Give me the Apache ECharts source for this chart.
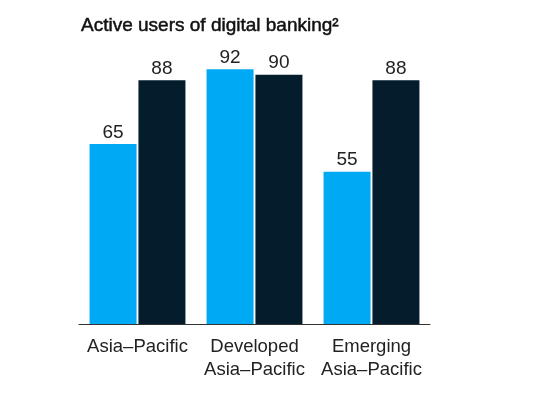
<!DOCTYPE html>
<html><head><meta charset="utf-8">
<script src="https://cdn.jsdelivr.net/npm/echarts@6/dist/echarts.min.js"></script>
<style>html,body{margin:0;padding:0;background:#fff}#c{width:550px;height:409px}</style>
</head><body><div id="c"></div>
<script>
const categories = ['Asia\u2013Pacific', 'Developed\nAsia\u2013Pacific', 'Emerging\nAsia\u2013Pacific'];
const seriesA = [65, 92, 55];
const seriesB = [88, 90, 88];
const title = 'Active users of digital banking\u00B2';

const chart = echarts.init(document.getElementById('c'));
const font = 'Liberation Sans, Arial, Helvetica, sans-serif';
const lbl = {show: true, position: 'top', distance: 2, color: '#222', fontSize: 19, fontFamily: font};
chart.setOption({
  animation: false,
  title: {text: title, left: 76, top: 11, textStyle: {fontFamily: font, fontSize: 19, fontWeight: 'normal', color: '#111', textBorderColor: '#111', textBorderWidth: 0.5}},
  grid: {left: 79, right: 120, top: 47, bottom: 85},
  xAxis: {type: 'category', data: categories,
    axisLine: {lineStyle: {color: '#333', width: 1}}, axisTick: {show: false},
    axisLabel: {interval: 0, color: '#222', fontSize: 18.5, fontFamily: font, margin: 11, lineHeight: 23}},
  yAxis: {type: 'value', min: 0, max: 100, show: false, splitLine: {show: false}},
  series: [
    {type: 'bar', data: seriesA, barWidth: 47, barGap: '4%', itemStyle: {color: '#00A9F4'}, label: lbl},
    {type: 'bar', data: seriesB, barWidth: 47, itemStyle: {color: '#051C2C'}, label: lbl}
  ]
});
</script></body></html>
